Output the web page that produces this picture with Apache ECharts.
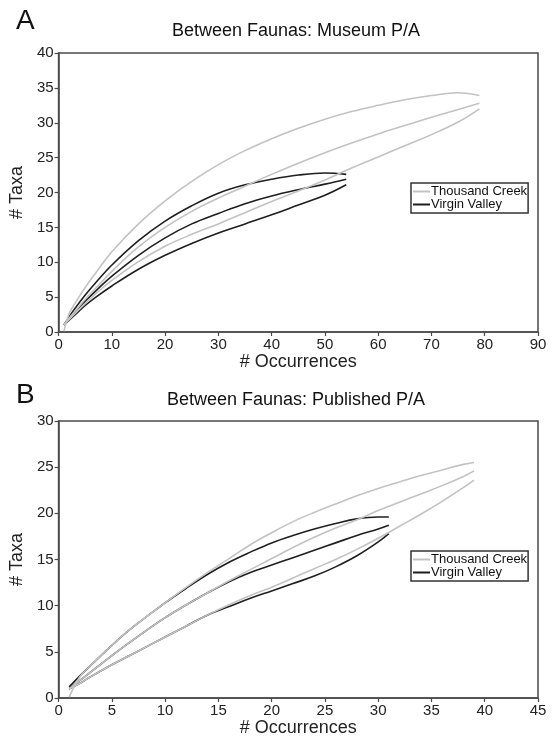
<!DOCTYPE html>
<html>
<head>
<meta charset="utf-8">
<script src="https://cdn.jsdelivr.net/npm/echarts@6/dist/echarts.min.js"></script>
<style>
  html, body { margin: 0; padding: 0; background: #fff; }
  #main { width: 556px; height: 744px; }
</style>
</head>
<body>
<div id="main"></div>
<script>
// Panel A: rarefaction of museum presence/absence records
const occA_TC = [1, 2, 3, 5, 7, 10, 15, 20, 25, 30, 35, 40, 45, 50, 55, 60, 65, 70, 75, 79];
const taxaA_TC_upper = [0.1, 2.7, 4.0, 6.4, 8.5, 11.5, 15.5, 18.8, 21.6, 24.0, 26.0, 27.7, 29.2, 30.5, 31.6, 32.5, 33.3, 33.9, 34.3, 33.9];
const taxaA_TC_mean  = [1.0, 2.0, 2.9, 4.7, 6.3, 8.7, 12.2, 15.0, 17.3, 19.2, 20.9, 22.6, 24.2, 25.7, 27.1, 28.4, 29.6, 30.8, 31.9, 32.8];
const taxaA_TC_lower = [1.0, 1.8, 2.6, 4.1, 5.5, 7.4, 10.1, 12.3, 14.0, 15.5, 17.1, 18.7, 20.2, 21.8, 23.5, 25.1, 26.7, 28.3, 30.1, 32.0];

const occA_VV = [1, 2, 3, 5, 7, 10, 15, 20, 25, 30, 35, 40, 45, 50, 54];
const taxaA_VV_upper = [1.0, 2.2, 3.3, 5.3, 7.1, 9.6, 13.1, 15.9, 18.1, 19.9, 21.1, 21.9, 22.5, 22.8, 22.6];
const taxaA_VV_mean  = [1.0, 1.9, 2.8, 4.4, 5.9, 8.0, 11.0, 13.5, 15.5, 17.0, 18.4, 19.5, 20.4, 21.2, 21.9];
const taxaA_VV_lower = [1.0, 1.7, 2.4, 3.8, 5.0, 6.6, 9.0, 11.0, 12.7, 14.2, 15.5, 16.8, 18.2, 19.6, 21.1];

// Panel B: rarefaction of published presence/absence records
const occB_TC = [1, 2, 3, 5, 7, 10, 12, 14, 16, 18, 20, 22, 24, 26, 28, 30, 32, 34, 36, 38, 39];
const taxaB_TC_upper = [0.1, 2.3, 3.5, 5.7, 7.7, 10.3, 12.0, 13.6, 15.1, 16.6, 17.9, 19.1, 20.1, 21.0, 21.9, 22.7, 23.4, 24.1, 24.7, 25.3, 25.5];
const taxaB_TC_mean  = [1.0, 1.9, 2.8, 4.6, 6.3, 8.7, 10.1, 11.4, 12.7, 13.9, 15.1, 16.3, 17.4, 18.4, 19.3, 20.3, 21.2, 22.1, 23.0, 24.0, 24.6];
const taxaB_TC_lower = [1.0, 1.6, 2.3, 3.6, 4.8, 6.6, 7.8, 9.0, 10.1, 11.1, 12.0, 13.0, 14.0, 15.0, 16.1, 17.3, 18.6, 19.9, 21.3, 22.8, 23.6];

const occB_VV = [1, 2, 3, 5, 7, 10, 12, 14, 16, 18, 20, 22, 24, 26, 28, 30, 31];
const taxaB_VV_upper = [1.2, 2.4, 3.5, 5.7, 7.7, 10.3, 11.9, 13.4, 14.7, 15.8, 16.8, 17.6, 18.3, 18.9, 19.4, 19.6, 19.6];
const taxaB_VV_mean  = [1.0, 1.9, 2.8, 4.6, 6.3, 8.7, 10.1, 11.4, 12.6, 13.6, 14.4, 15.2, 16.0, 16.8, 17.6, 18.3, 18.7];
const taxaB_VV_lower = [1.0, 1.6, 2.3, 3.6, 4.8, 6.6, 7.8, 9.0, 9.9, 10.8, 11.6, 12.4, 13.2, 14.2, 15.4, 16.9, 17.8];

const faunaNames = ['Thousand Creek', 'Virgin Valley'];
const panelTitles = ['Between Faunas: Museum P/A', 'Between Faunas: Published P/A'];
const panelLetters = ['A', 'B'];

const FONT = '"Liberation Sans", Arial, Helvetica, sans-serif';
const AXIS_COLOR = '#4a4a4a';
const TC_COLOR = '#c2c2c2';
const VV_COLOR = '#1e1e1e';

function pairs(xs, ys) { return xs.map((x, i) => [x, ys[i]]); }

function curve(name, color, panel, xs, ys) {
  return {
    name: name, type: 'line', xAxisIndex: panel, yAxisIndex: panel,
    data: pairs(xs, ys), color: color,
    symbol: 'none', showSymbol: false, smooth: 0.4,
    lineStyle: { color: color, width: 1.6 }, silent: true, animation: false
  };
}

function xAxisCfg(panel, max, interval) {
  return {
    gridIndex: panel, type: 'value', min: 0, max: max, interval: interval,
    axisLine: { show: true, onZero: false, lineStyle: { color: AXIS_COLOR, width: 1.5 } },
    axisTick: { show: true, length: 4, lineStyle: { color: AXIS_COLOR, width: 1.2 } },
    splitLine: { show: false },
    axisLabel: { fontSize: 15, color: '#222', margin: 5, fontFamily: FONT },
    name: '# Occurrences', nameLocation: 'middle', nameGap: 21,
    nameTextStyle: { fontSize: 18, color: '#222', fontFamily: FONT }
  };
}

function yAxisCfg(panel, max, interval) {
  return {
    gridIndex: panel, type: 'value', min: 0, max: max, interval: interval,
    axisLine: { show: true, onZero: false, lineStyle: { color: AXIS_COLOR, width: 1.5 } },
    axisTick: { show: true, length: 4, lineStyle: { color: AXIS_COLOR, width: 1.2 } },
    splitLine: { show: false },
    axisLabel: { fontSize: 15, color: '#222', margin: 5, fontFamily: FONT },
    name: '# Taxa', nameLocation: 'middle', nameGap: 28,
    nameTextStyle: { fontSize: 18, color: '#222', fontFamily: FONT }
  };
}

function legendCfg(top) {
  return {
    data: faunaNames, orient: 'vertical', left: 411, top: top,
    itemGap: 0, itemWidth: 17, itemHeight: 2, icon: 'rect',
    padding: [2, 1, 2, 2], borderColor: '#333', borderWidth: 1.5,
    backgroundColor: '#fff', selectedMode: false,
    textStyle: { fontSize: 13, lineHeight: 12, color: '#111', fontFamily: FONT, padding: [0, 0, 0, -4] }
  };
}

function textItem(str, x, y, size, align) {
  return {
    type: 'text', x: x, y: y, silent: true,
    style: { text: str, fontSize: size, fontFamily: FONT, fill: '#111',
             textAlign: align, textVerticalAlign: 'middle' }
  };
}

const option = {
  animation: false,
  backgroundColor: '#fff',
  grid: [
    { left: 54, top: 53, width: 484, height: 279, show: true, borderColor: AXIS_COLOR, borderWidth: 1.5, backgroundColor: '#fff' },
    { left: 54, top: 421, width: 484, height: 277, show: true, borderColor: AXIS_COLOR, borderWidth: 1.5, backgroundColor: '#fff' }
  ],
  xAxis: [xAxisCfg(0, 90, 10), xAxisCfg(1, 45, 5)],
  yAxis: [yAxisCfg(0, 40, 5), yAxisCfg(1, 30, 5)],
  legend: [legendCfg(183), legendCfg(551)],
  graphic: [
    textItem(panelLetters[0], 16, 21, 28, 'left'),
    textItem(panelTitles[0], 296, 31, 18, 'center'),
    textItem(panelLetters[1], 16, 395, 28, 'left'),
    textItem(panelTitles[1], 296, 400, 18, 'center')
  ],
  series: [
    curve(faunaNames[1], VV_COLOR, 0, occA_VV, taxaA_VV_upper),
    curve(faunaNames[1], VV_COLOR, 0, occA_VV, taxaA_VV_mean),
    curve(faunaNames[1], VV_COLOR, 0, occA_VV, taxaA_VV_lower),
    curve(faunaNames[0], TC_COLOR, 0, occA_TC, taxaA_TC_upper),
    curve(faunaNames[0], TC_COLOR, 0, occA_TC, taxaA_TC_mean),
    curve(faunaNames[0], TC_COLOR, 0, occA_TC, taxaA_TC_lower),
    curve(faunaNames[1], VV_COLOR, 1, occB_VV, taxaB_VV_upper),
    curve(faunaNames[1], VV_COLOR, 1, occB_VV, taxaB_VV_mean),
    curve(faunaNames[1], VV_COLOR, 1, occB_VV, taxaB_VV_lower),
    curve(faunaNames[0], TC_COLOR, 1, occB_TC, taxaB_TC_upper),
    curve(faunaNames[0], TC_COLOR, 1, occB_TC, taxaB_TC_mean),
    curve(faunaNames[0], TC_COLOR, 1, occB_TC, taxaB_TC_lower)
  ]
};

const chart = echarts.init(document.getElementById('main'), null, { renderer: 'canvas' });
chart.setOption(option);
</script>
</body>
</html>
